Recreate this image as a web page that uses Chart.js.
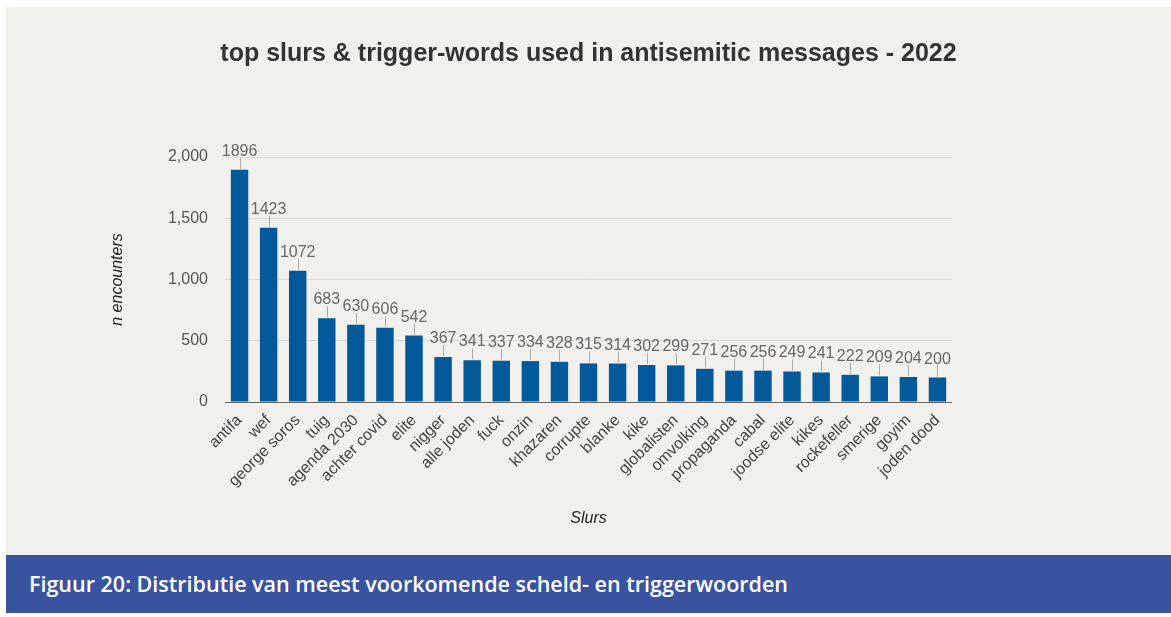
<!DOCTYPE html>
<html>
<head>
<meta charset="utf-8">
<script src="https://cdn.jsdelivr.net/npm/chart.js@4.4.1/dist/chart.umd.min.js"></script>
<style>
  html, body { margin: 0; padding: 0; background: #ffffff; }
  #panel { position: absolute; left: 6px; top: 7px; width: 1165px; height: 548px; background: #f1f0ed; }
  #banner { position: absolute; left: 6px; top: 555px; width: 1165px; height: 58px; background: #3a53a0;
            color: #ffffff; font-family: "Open Sans", "Noto Sans", sans-serif; font-weight: 600; font-size: 21.5px;
            line-height: 58px; box-sizing: border-box; padding-left: 23px; }
</style>
</head>
<body>
<div id="panel"><canvas id="slursChart"></canvas></div>
<div id="banner">Figuur 20: Distributie van meest voorkomende scheld- en triggerwoorden</div>
<script>
const slurs = ['antifa', 'wef', 'george soros', 'tuig', 'agenda 2030', 'achter covid', 'elite', 'nigger', 'alle joden', 'fuck',
    'onzin', 'khazaren', 'corrupte', 'blanke', 'kike', 'globalisten', 'omvolking', 'propaganda', 'cabal', 'joodse elite',
    'kikes', 'rockefeller', 'smerige', 'goyim', 'joden dood'];
const encounters = [1896, 1423, 1072, 683, 630, 606, 542, 367, 341, 337,
    334, 328, 315, 314, 302, 299, 271, 256, 256, 249,
    241, 222, 209, 204, 200];
const yTicks = [0, 500, 1000, 1500, 2000];

const FONT = '"Liberation Sans", Arial, sans-serif';

// value labels with a little connector line above each bar
const barLabels = {
    id: 'barLabels',
    afterDatasetsDraw(chart) {
        const c = chart.ctx;
        const meta = chart.getDatasetMeta(0);
        c.save();
        c.font = '16px ' + FONT;
        c.textAlign = 'center';
        c.textBaseline = 'alphabetic';
        meta.data.forEach((bar, i) => {
            c.strokeStyle = '#aaaaaa';
            c.lineWidth = 1;
            c.beginPath();
            c.moveTo(Math.round(bar.x) + 0.5, bar.y - 1);
            c.lineTo(Math.round(bar.x) + 0.5, bar.y - 12);
            c.stroke();
            c.fillStyle = '#666666';
            c.fillText(String(encounters[i]), bar.x, bar.y - 14);
        });
        c.restore();
    }
};

const ctx = document.getElementById('slursChart').getContext('2d');
const slursChart = new Chart(ctx, {
    type: 'bar',
    data: {
        labels: slurs,
        datasets: [{
            label: 'n encounters',
            data: encounters,
            backgroundColor: '#03599a',
            categoryPercentage: 1,
            barPercentage: 0.6
        }]
    },
    options: {
        responsive: true,
        maintainAspectRatio: false,
        animation: false,
        locale: 'en-US',
        layout: { padding: 0 },
        plugins: {
            legend: { display: false },
            tooltip: { enabled: false },
            title: {
                display: true,
                text: 'top slurs & trigger-words used in antisemitic messages - 2022',
                color: '#333333',
                font: { family: FONT, size: 25, weight: 'bold' },
                padding: { top: 32, bottom: 88 }
            }
        },
        scales: {
            x: {
                grid: { display: false, drawTicks: false },
                border: { display: false },
                ticks: {
                    color: '#444444',
                    font: { family: FONT, size: 16 },
                    maxRotation: 45,
                    minRotation: 45,
                    autoSkip: false,
                    padding: 9
                },
                title: {
                    display: true,
                    text: 'Slurs',
                    color: '#222222',
                    font: { family: FONT, size: 16, style: 'italic' },
                    padding: { top: 0, bottom: 27 }
                },
                afterFit(scale) { scale.height = 153; }
            },
            y: {
                min: 0,
                max: 2000,
                afterBuildTicks(scale) { scale.ticks = yTicks.map(v => ({ value: v })); },
                grid: {
                    drawTicks: false,
                    color: c => (c.tick && c.tick.value === 0 ? '#666666' : '#d9d9d9')
                },
                border: { display: false },
                ticks: {
                    color: '#555555',
                    font: { family: FONT, size: 16 },
                    padding: 17
                },
                title: {
                    display: true,
                    text: 'n encounters',
                    color: '#222222',
                    font: { family: FONT, size: 16, style: 'italic' },
                    padding: { top: 102, bottom: 0 }
                },
                afterFit(scale) { scale.width = 219; }
            },
            // empty right-hand space so the title stays centred on the panel
            spacer: {
                position: 'right',
                grid: { display: false, drawTicks: false },
                border: { display: false },
                ticks: { display: false },
                afterFit(scale) { scale.width = 219; }
            }
        }
    },
    plugins: [barLabels]
});
</script>
</body>
</html>
